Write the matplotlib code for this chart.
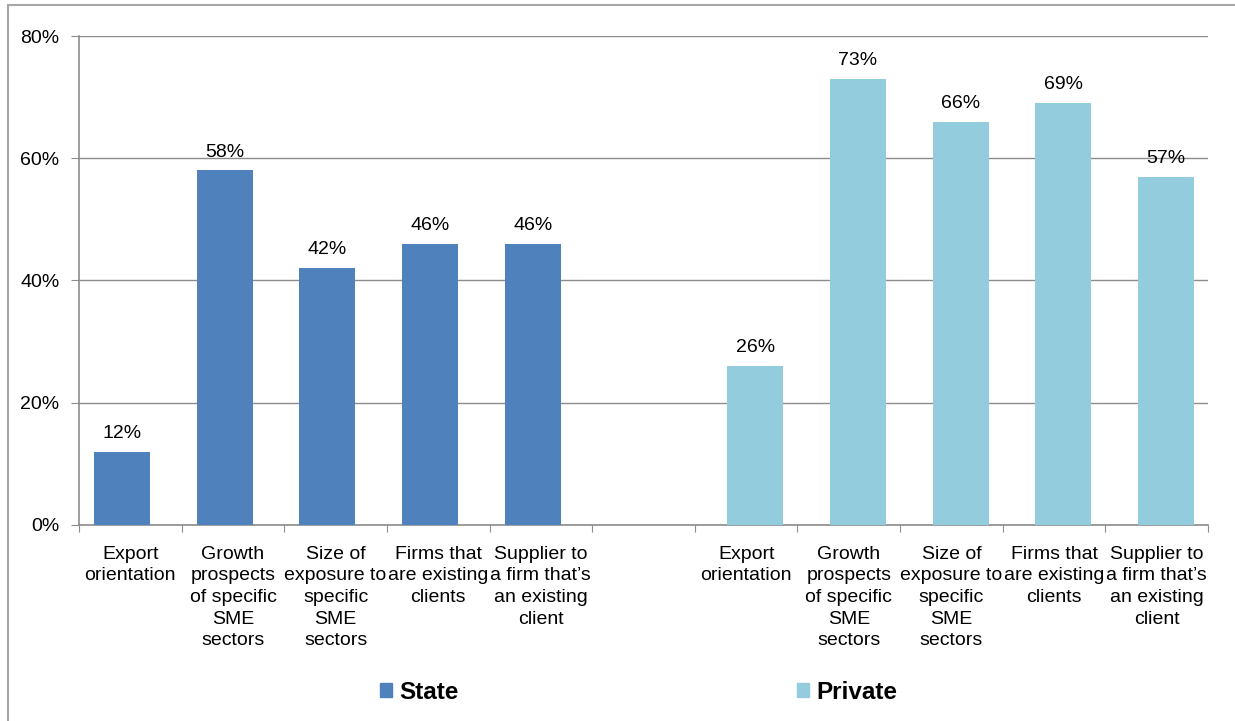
"""
Selection criteria for SME lending: state vs private banks (grouped bars)
"""
import matplotlib
matplotlib.use("Agg")
import matplotlib.pyplot as plt
from matplotlib.patches import Patch, Rectangle
import numpy as np

CATEGORIES = [
    "Export\norientation",
    "Growth\nprospects\nof specific\nSME\nsectors",
    "Size of\nexposure to\nspecific\nSME\nsectors",
    "Firms that\nare existing\nclients",
    "Supplier to\na firm that\u2019s\nan existing\nclient",
]
STATE = [12, 58, 42, 46, 46]
PRIVATE = [26, 73, 66, 69, 57]
Y_TICKS = [0, 20, 40, 60, 80]

STATE_COLOR = "#4f81bd"
PRIVATE_COLOR = "#93cddd"
AXIS_GRAY = "#8c8c8c"
FS = 14

plt.rcParams["font.family"] = ["Liberation Sans", "DejaVu Sans"]

fig = plt.figure(figsize=(12.35, 7.21), dpi=100)
ax = fig.add_axes([79 / 1235, 0.272, 1129 / 1235, 0.678])

n = len(CATEGORIES)
slots_state = np.arange(n)
slots_private = np.arange(n) + n + 1
width = 0.546
# two-series cluster: each series sits slightly off the slot centre
x_state = slots_state - 0.08
x_private = slots_private + 0.09

ax.bar(x_state, STATE, width=width, color=STATE_COLOR, zorder=3)
ax.bar(x_private, PRIVATE, width=width, color=PRIVATE_COLOR, zorder=3)

for xs, vals in ((x_state, STATE), (x_private, PRIVATE)):
    for x, v in zip(xs, vals):
        ax.text(x, v + 1.6, f"{v}%", ha="center", va="bottom", fontsize=FS)

total = 2 * n + 1
ax.set_xlim(-0.5, total - 0.5)
ax.set_ylim(0, 80)

ax.set_yticks(Y_TICKS)
ax.set_yticklabels([f"{t}%" for t in Y_TICKS], fontsize=FS)
ax.yaxis.grid(True, color=AXIS_GRAY, linewidth=1, zorder=0)
ax.tick_params(axis="y", length=6, color=AXIS_GRAY, pad=8)

ax.set_xticks(np.arange(total + 1) - 0.5)
ax.set_xticklabels([])
ax.tick_params(axis="x", which="major", length=5, color=AXIS_GRAY, direction="out")
ax.set_xticks(np.concatenate([slots_state, slots_private]), minor=True)
ax.set_xticklabels(CATEGORIES + CATEGORIES, minor=True, fontsize=FS,
                   linespacing=1.36, va="top")
ax.tick_params(axis="x", which="minor", length=0, pad=15)

for side in ("top", "right"):
    ax.spines[side].set_visible(False)
for side in ("left", "bottom"):
    ax.spines[side].set_color(AXIS_GRAY)
    ax.spines[side].set_linewidth(1.2)

handles = [Patch(color=STATE_COLOR, label="State"),
           Patch(color=PRIVATE_COLOR, label="Private")]
fig.legend(handles=handles, loc="center", bbox_to_anchor=(0.517, 0.04),
           ncol=2, frameon=False, handlelength=0.5, handleheight=0.5,
           handletextpad=0.3, columnspacing=13.9,
           prop={"weight": "bold", "size": 17.5})

# outer chart border
fig.patches.append(Rectangle((8 / 1235, -0.05), 1.1, 1.05 - 5 / 721,
                             transform=fig.transFigure, fill=False,
                             edgecolor="#a6a6a6", linewidth=1.5))

fig.savefig("out.png", dpi=100)
